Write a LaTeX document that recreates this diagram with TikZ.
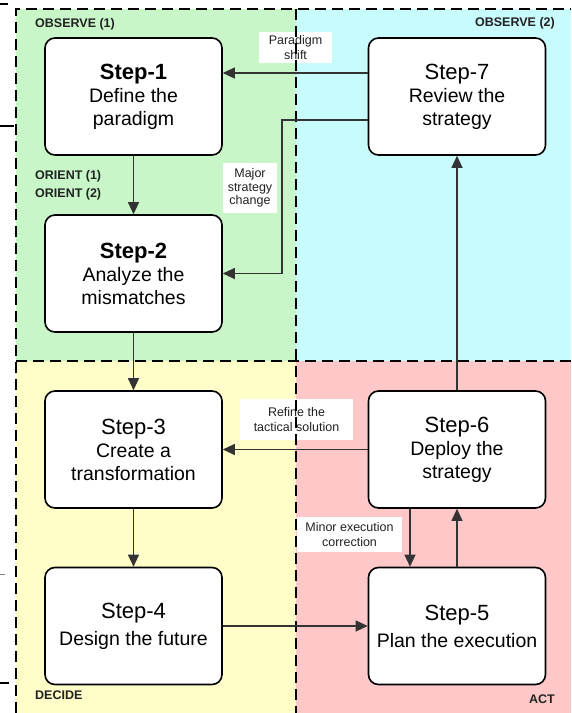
\documentclass[tikz,border=0pt]{standalone}
\usepackage{fontspec}
\setmainfont{Liberation Sans}
\usepackage{xcolor}
\usepackage{tikz}
\usetikzlibrary{arrows.meta}
\definecolor{obsgreen}{HTML}{C8F6C8}
\definecolor{obscyan}{HTML}{C8FBFC}
\definecolor{decyellow}{HTML}{FFFDC8}
\definecolor{actpink}{HTML}{FFC8C8}
\definecolor{ink}{HTML}{222222}
\definecolor{wire}{HTML}{333333}
\tikzset{
  stepbox/.style={draw=black, line width=1.6pt, fill=white, rounded corners=10pt,
    minimum width=177pt, minimum height=117pt, inner sep=0pt, align=center,
    font=\fontsize{19.5}{23}\selectfont},
  flow/.style={draw=wire, line width=1.1pt, -{Triangle[length=12pt,width=11pt]}},
  divider/.style={draw=black, line width=1.6pt, dash pattern=on 11pt off 6pt},
  note/.style={fill=white, text=ink, inner sep=0pt, align=center,
    font=\fontsize{12.5}{15}\selectfont},
  quadlab/.style={text=ink, inner sep=0pt, font=\bfseries\fontsize{12.5}{15}\selectfont},
}
\newcommand{\stitle}[1]{{\fontsize{22}{23}\selectfont #1}}

\begin{document}
\begin{tikzpicture}[x=1pt, y=-1pt]
  \useasboundingbox (0,0) rectangle (571,713);

  % quadrants
  \fill[obsgreen]  (16,9)   rectangle (296,361);
  \fill[obscyan]   (296,9)  rectangle (571,361);
  \fill[decyellow] (16,361) rectangle (296,713);
  \fill[actpink]   (296,361) rectangle (571,713);

  \node[quadlab, anchor=west] (obs1) at (35,24)  {OBSERVE (1)};
  \node[quadlab, anchor=east] (obs2) at (555,23) {OBSERVE (2)};
  \node[quadlab, anchor=west] (ori1) at (35,176) {ORIENT (1)};
  \node[quadlab, anchor=west] (ori2) at (35,194) {ORIENT (2)};
  \node[quadlab, anchor=west] (dec)  at (35,695) {DECIDE};
  \node[quadlab, anchor=east] (act)  at (555,699) {ACT};

  % edge labels
  \node[note, minimum width=73pt, minimum height=31pt]  (lshift)  at (295.5,47.5)  {Paradigm\\shift};
  \node[note, minimum width=54pt, minimum height=50pt, font=\fontsize{12.5}{13.5}\selectfont]
    (lmajor) at (250,188) {Major\\strategy\\change};
  \node[note, minimum width=113pt, minimum height=41pt] (lrefine) at (296.5,419.5) {Refine the\\tactical solution};
  \node[note, minimum width=105pt, minimum height=35pt] (lminor)  at (349.5,534.5) {Minor execution\\correction};

  % borders
  \draw[divider] (16,713) -- (16,9) -- (571,9);
  \draw[divider] (296,9) -- (296,713);
  \draw[divider] (16,361) -- (571,361);

  % steps
  \node[stepbox] (s1) at (133.5,96.5)  {\stitle{\textbf{Step-1}}\\Define the\\paradigm};
  \node[stepbox] (s2) at (133.5,273.5) {\stitle{\textbf{Step-2}}\\Analyze the\\mismatches};
  \node[stepbox] (s3) at (133.5,449.5) {\stitle{Step-3}\\Create a\\transformation};
  \node[stepbox] (s4) at (133.5,626)   {\stitle{Step-4}\\[4pt]Design the future};
  \node[stepbox] (s5) at (457,626)     {\stitle{Step-5}\\[4pt]Plan the execution};
  \node[stepbox] (s6) at (457,449.5)   {\stitle{Step-6}\\Deploy the\\strategy};
  \node[stepbox] (s7) at (457,96.5)    {\stitle{Step-7}\\Review the\\strategy};

  \coordinate (mjbend) at (282,273.5);

  \draw[flow] (s1) -- (s2);
  \draw[flow] (s2) -- (s3);
  \draw[flow] (s3) -- (s4);
  \draw[flow] (s4) -- (s5);
  \draw[flow] (s5) -- (s6);
  \draw[flow] (s6) -- (s7);
  \draw[flow] (s6) -- (s3);
  \draw[flow] ([xshift=-47pt]s6.south) -- ([xshift=-47pt]s5.north);
  \draw[flow] ([yshift=23.5pt]s7.west) -- ([yshift=23.5pt]s1.east);
  \draw[flow] ([yshift=-23.5pt]s7.west) -| (mjbend) -- (s2.east);

  % stray marks at the left edge
  \draw[line width=1.2pt] (0,4) -- (8,4);
  \draw[line width=1.2pt] (0,126) -- (14,126);
  \draw[gray, line width=0.8pt] (0,574) -- (5,574);
  \draw[line width=1.2pt] (0,683) -- (9,683);
\end{tikzpicture}
\end{document}
